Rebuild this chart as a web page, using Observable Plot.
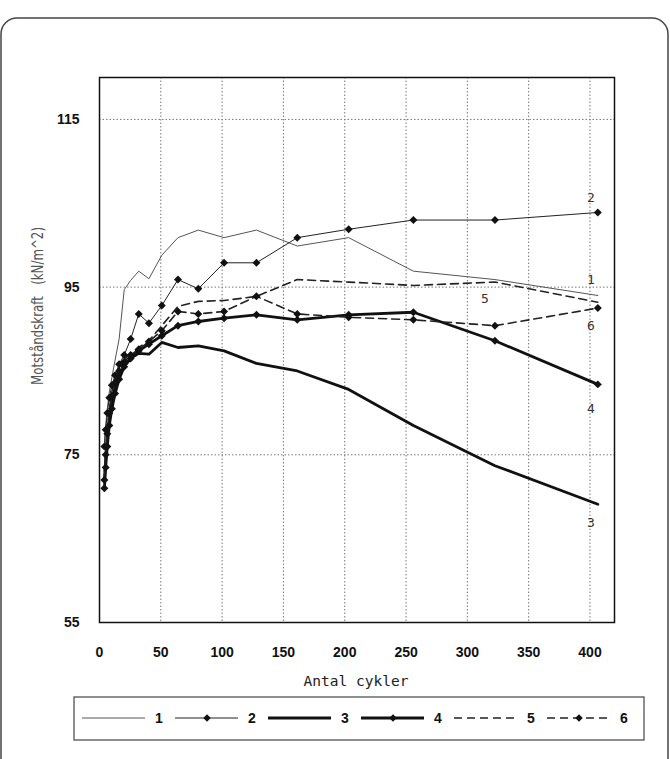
<!DOCTYPE html>
<html><head><meta charset="utf-8">
<script src="https://cdn.jsdelivr.net/npm/d3@7"></script>
<script src="https://cdn.jsdelivr.net/npm/@observablehq/plot@0.6"></script>
<style>
body{margin:0;background:#fff}
#chart{position:relative;width:670px;height:759px}
</style>
</head><body><div id="chart"></div>
<script>
// ---- data ----
const cycles = [4, 5.04, 6.35, 8, 10.08, 12.7, 16, 20.16, 25.4, 32, 40.3, 50.8, 64, 80.6, 101.6, 128, 161.3, 203.2, 256, 322.5, 406.4];
const series1 = [76.5, 78.5, 80.5, 82.5, 84.2, 86.3, 88.8, 94.7, 95.8, 96.9, 96.0, 98.8, 100.9, 101.8, 100.9, 101.8, 99.9, 100.9, 96.9, 95.9, 94.0];
const series2 = [76.0, 78.0, 80.0, 81.8, 83.3, 84.5, 85.8, 86.9, 88.8, 91.8, 90.7, 92.8, 95.9, 94.8, 97.9, 97.9, 100.9, 101.9, 103.0, 103.0, 103.9];
const series3 = [72.0, 74.5, 77.0, 79.5, 81.5, 83.0, 84.5, 85.6, 86.5, 87.1, 87.0, 88.4, 87.8, 88.0, 87.4, 85.9, 85.0, 82.8, 78.5, 73.7, 69.1];
const series4 = [71.0, 73.5, 76.0, 78.5, 80.5, 82.3, 84.0, 85.5, 86.5, 87.4, 88.2, 89.2, 90.4, 90.9, 91.3, 91.7, 91.1, 91.7, 92.0, 88.6, 83.4];
const series5 = [73.0, 75.5, 78.0, 80.5, 82.5, 84.0, 85.4, 86.4, 87.1, 87.8, 88.6, 90.4, 92.7, 93.3, 93.4, 93.9, 95.9, 95.6, 95.2, 95.6, 93.2];
const series6 = [72.0, 75.0, 77.5, 80.0, 82.0, 83.6, 85.0, 86.1, 86.9, 87.6, 88.5, 89.8, 92.1, 91.8, 92.1, 93.9, 91.8, 91.4, 91.1, 90.4, 92.5];
const seriesNames = ["1", "2", "3", "4", "5", "6"];
const xTicks = [0, 50, 100, 150, 200, 250, 300, 350, 400];
const yTicks = [55, 75, 95, 115];
const xLabel = "Antal cykler";
const yLabel = "Motståndskraft   (kN/m^2)";

// ---- styles (not data) ----
const styles = {
  "1": {w: 1, dash: null, stroke: "#555", marker: false, lab: {dx: -7, dy: -16, idx: 20}},
  "2": {w: 1, dash: null, stroke: "#222", marker: true,  lab: {dx: -7, dy: -15, idx: 20}},
  "3": {w: 2.8, dash: null, stroke: "#111", marker: false, lab: {dx: -7, dy: 19, idx: 20}},
  "4": {w: 2.8, dash: null, stroke: "#111", marker: true,  lab: {dx: -7, dy: 24, idx: 20}},
  "5": {w: 1.6, dash: "8,5", stroke: "#222", marker: false, lab: {dx: -10, dy: 17, idx: 19}},
  "6": {w: 1.6, dash: "8,5", stroke: "#222", marker: true,  lab: {dx: -7, dy: 18, idx: 20}}
};

const allSeries = [series1, series2, series3, series4, series5, series6];
const rows = [];
allSeries.forEach((vals, i) => vals.forEach((v, j) => rows.push({series: seriesNames[i], cycles: cycles[j], value: v})));
const labelRows = seriesNames.map((s, i) => {
  const k = styles[s].lab.idx;
  return {series: s, cycles: cycles[k], value: allSeries[i][k]};
});

const lineMarks = seriesNames.map(s => Plot.line(rows.filter(d => d.series === s), {
  x: "cycles", y: "value", stroke: styles[s].stroke, strokeWidth: styles[s].w,
  strokeDasharray: styles[s].dash, strokeLinejoin: "round", curve: "linear"
}));
const dotMarks = seriesNames.filter(s => styles[s].marker).map(s => Plot.dot(rows.filter(d => d.series === s), {
  x: "cycles", y: "value", symbol: "diamond2", r: 3.6, fill: "#111", stroke: "none"
}));
const textMarks = labelRows.map(d => Plot.text([d], {
  x: "cycles", y: "value", text: "series", dx: styles[d.series].lab.dx, dy: styles[d.series].lab.dy,
  fontFamily: "'DejaVu Sans Mono', monospace", fontSize: 13, fontWeight: "normal", fill: "#333"
}));

const chart = Plot.plot({
  width: 670, height: 759,
  marginTop: 77, marginLeft: 99, marginRight: 56, marginBottom: 137,
  style: {fontFamily: "'Liberation Sans', Arial, sans-serif", fontSize: "14px", fontWeight: "bold", color: "#111", background: "#fff"},
  x: {domain: [0, 420]},
  y: {domain: [55, 120]},
  marks: [
    Plot.gridX(xTicks.slice(1), {stroke: "#777", strokeOpacity: 1, strokeDasharray: "1.5,2", strokeWidth: 1}),
    Plot.gridY(yTicks.slice(1), {stroke: "#777", strokeOpacity: 1, strokeDasharray: "1.5,2", strokeWidth: 1}),
    Plot.axisX({ticks: xTicks, tickSize: 0, tickPadding: 25, label: null, fontSize: 14}),
    Plot.axisY({ticks: yTicks, tickSize: 0, tickPadding: 20, label: null, fontSize: 14}),
    ...lineMarks,
    ...dotMarks,
    ...textMarks,
    Plot.frame({stroke: "#111", strokeWidth: 1.5})
  ]
});
document.getElementById("chart").appendChild(chart);

// ---- decorations: outer border, axis titles, legend ----
const svg = d3.select(chart);
svg.insert("rect", ":first-child")
  .attr("x", 1).attr("y", 18).attr("width", 667).attr("height", 800).attr("rx", 16)
  .attr("fill", "none").attr("stroke", "#444").attr("stroke-width", 1.5);

svg.append("text")
  .attr("x", 356).attr("y", 686).attr("text-anchor", "middle")
  .attr("font-family", "'DejaVu Sans Mono', monospace").attr("font-size", 14).attr("font-weight", "normal")
  .attr("fill", "#222").attr("textLength", 105).attr("lengthAdjust", "spacingAndGlyphs")
  .text(xLabel);

svg.append("text")
  .attr("transform", "translate(43,306) rotate(-90)").attr("text-anchor", "middle")
  .attr("font-family", "'DejaVu Sans', sans-serif").attr("font-size", 15).attr("font-weight", "normal")
  .attr("fill", "#555").attr("textLength", 158).attr("lengthAdjust", "spacingAndGlyphs")
  .style("white-space", "pre")
  .text(yLabel);

const lg = svg.append("g");
lg.append("rect").attr("x", 74).attr("y", 697).attr("width", 570).attr("height", 43)
  .attr("fill", "#fff").attr("stroke", "#444").attr("stroke-width", 1.2);
const diamondSym = d3.symbolDiamond2 || d3.symbolDiamond;
seriesNames.forEach((s, i) => {
  const st = styles[s];
  const x0 = 82 + i * 93, y0 = 718;
  lg.append("line").attr("x1", x0).attr("x2", x0 + 63).attr("y1", y0).attr("y2", y0)
    .attr("stroke", st.stroke).attr("stroke-width", st.w).attr("stroke-dasharray", st.dash);
  if (st.marker) {
    lg.append("path").attr("transform", `translate(${x0 + 32},${y0})`)
      .attr("d", d3.symbol(diamondSym, 36)()).attr("fill", "#111");
  }
  lg.append("text").attr("x", x0 + 77).attr("y", y0 + 5).attr("text-anchor", "middle")
    .attr("font-family", "'Liberation Sans', Arial, sans-serif").attr("font-size", 14).attr("font-weight", "bold")
    .attr("fill", "#111").text(s);
});
</script>
</body></html>
